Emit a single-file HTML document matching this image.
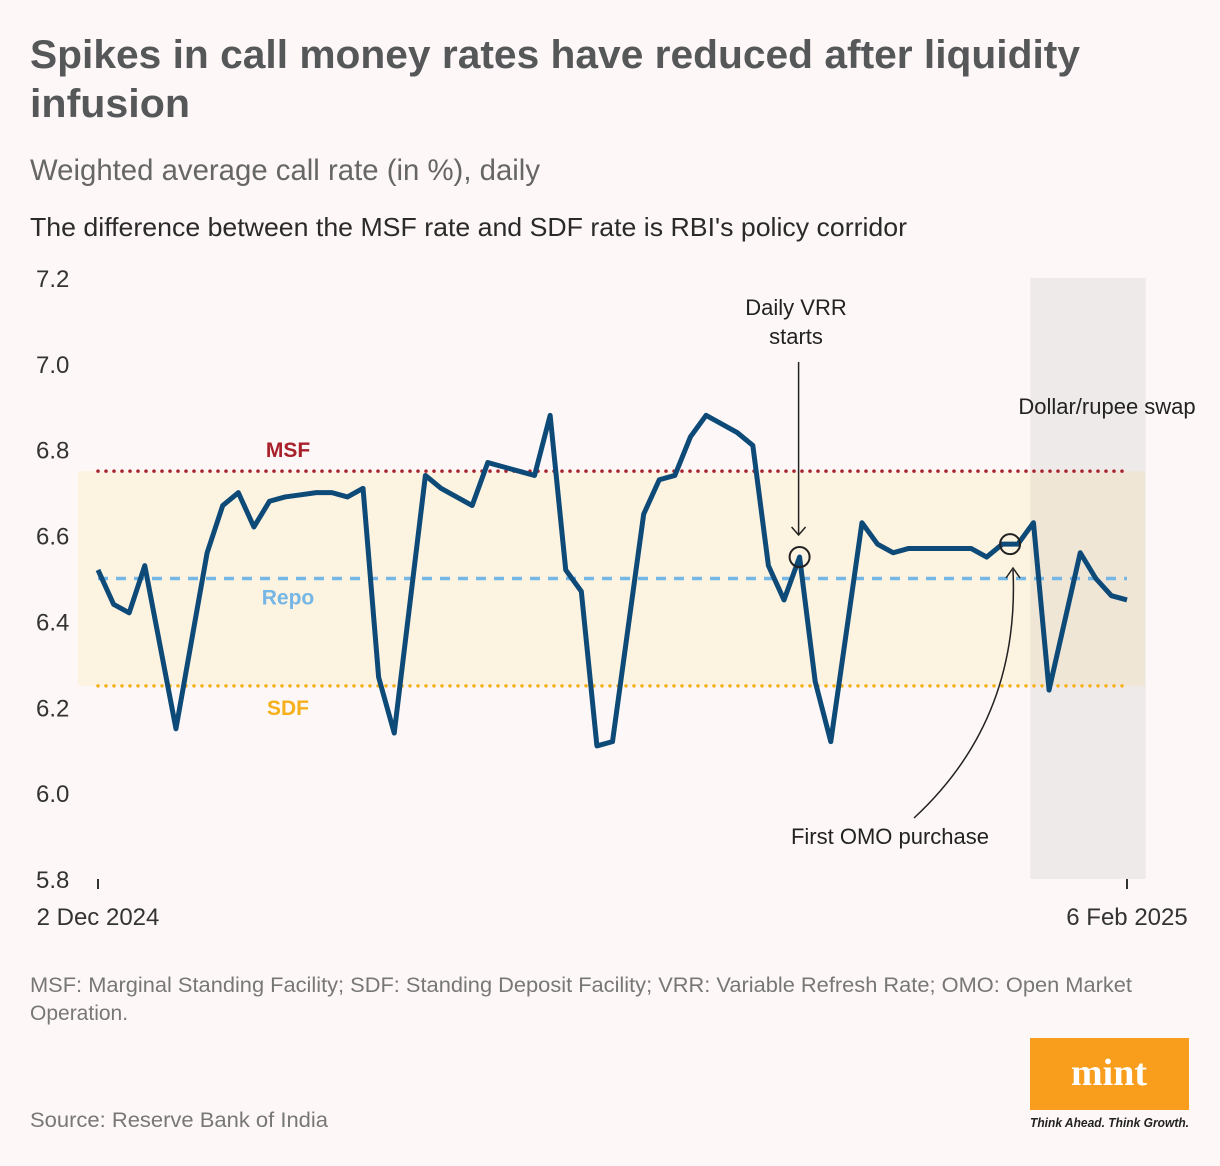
<!DOCTYPE html>
<html><head><meta charset="utf-8"><style>
body{margin:0;background:#fdf8f7;}
svg{display:block;font-family:"Liberation Sans",sans-serif;}
</style></head><body>
<svg width="1220" height="1166" viewBox="0 0 1220 1166">
<rect width="1220" height="1166" fill="#fdf8f7"/>
<text x="30" y="68" font-size="40" font-weight="bold" fill="#555759" textLength="1050" lengthAdjust="spacingAndGlyphs">Spikes in call money rates have reduced after liquidity</text>
<text x="30" y="117" font-size="40" font-weight="bold" fill="#555759" textLength="160" lengthAdjust="spacingAndGlyphs">infusion</text>
<text x="30" y="180" font-size="30" fill="#666" textLength="510" lengthAdjust="spacingAndGlyphs">Weighted average call rate (in %), daily</text>
<text x="30" y="236" font-size="26" fill="#2a2a2a" textLength="877" lengthAdjust="spacingAndGlyphs">The difference between the MSF rate and SDF rate is RBI's policy corridor</text>
<g id="plot"></g>
<text x="30" y="992" font-size="21" fill="#777" textLength="1102" lengthAdjust="spacingAndGlyphs">MSF: Marginal Standing Facility; SDF: Standing Deposit Facility; VRR: Variable Refresh Rate; OMO: Open Market</text>
<text x="30" y="1020" font-size="21" fill="#777">Operation.</text>
<text x="30" y="1127" font-size="21" fill="#777" textLength="298" lengthAdjust="spacingAndGlyphs">Source: Reserve Bank of India</text>
<rect x="1030" y="1038" width="159" height="72" fill="#f99d1c"/>
<text x="1109" y="1085" font-size="38" font-weight="bold" fill="#fff" text-anchor="middle" font-family="Liberation Serif, serif">mint</text>
<text x="1030" y="1127" font-size="12.5" font-style="italic" font-weight="bold" fill="#222" textLength="159" lengthAdjust="spacingAndGlyphs">Think Ahead. Think Growth.</text>
</svg>
<script>
const days = [0,1,2,3,5,7,8,9,10,11,12,13,14,15,16,17,18,19,21,22,23,24,25,26,27,28,29,30,31,32,33,35,36,37,38,39,40,41,42,43,44,45,46,47,49,50,51,52,53,54,55,56,57,58,59,60,61,63,64,65,66];
const rates = [6.52,6.44,6.42,6.53,6.15,6.56,6.67,6.70,6.62,6.68,6.69,6.695,6.70,6.70,6.69,6.71,6.27,6.14,6.74,6.71,6.69,6.67,6.77,6.76,6.75,6.74,6.88,6.52,6.47,6.11,6.12,6.65,6.73,6.74,6.83,6.88,6.86,6.84,6.81,6.53,6.45,6.55,6.26,6.12,6.63,6.58,6.56,6.57,6.57,6.57,6.57,6.57,6.55,6.58,6.58,6.63,6.24,6.56,6.50,6.46,6.45];
const yTicks = [7.2,7.0,6.8,6.6,6.4,6.2,6.0,5.8];
const xTickLabels = ["2 Dec 2024","6 Feb 2025"];
const xTickDays = [0,66];
const policy = {msf:6.75, repo:6.5, sdf:6.25};
const shadeDays = [59.8,67.2];
const NS="http://www.w3.org/2000/svg";
const g=document.getElementById('plot');
const X=d=>98+d*(1127-98)/66;
const Y=v=>278+(7.2-v)*(879-278)/1.4;
function mk(t,a){const e=document.createElementNS(NS,t);for(const k in a)e.setAttribute(k,a[k]);g.appendChild(e);return e;}
let e;
e=mk('rect',{x:78,y:Y(policy.msf),width:1145-78,height:Y(policy.sdf)-Y(policy.msf),fill:'#fdf3e1'});


e=mk('rect',{x:X(shadeDays[0]),y:278,width:X(shadeDays[1])-X(shadeDays[0]),height:601,fill:'#8a8a8a','fill-opacity':0.12});


yTicks.forEach(t=>{
 const tx=mk('text',{x:36,y:Y(t)+9,'font-size':24,fill:'#333'});tx.textContent=t.toFixed(1);
 
 
});
xTickDays.forEach((d,i)=>{
 const l=mk('line',{x1:X(d),x2:X(d),y1:879,y2:889,stroke:'#333','stroke-width':2});
 
 
 const tx=mk('text',{x:X(d),y:925,'font-size':24,fill:'#333','text-anchor':'middle'});tx.textContent=xTickLabels[i];
 
 
});
e=mk('line',{x1:98,x2:1127,y1:Y(policy.msf),y2:Y(policy.msf),stroke:'#a8202a','stroke-width':3.5,'stroke-dasharray':'0 8','stroke-linecap':'round'});


e=mk('line',{x1:98,x2:1127,y1:Y(policy.repo),y2:Y(policy.repo),stroke:'#74b6e6','stroke-width':3.5,'stroke-dasharray':'10 8'});


e=mk('line',{x1:98,x2:1127,y1:Y(policy.sdf),y2:Y(policy.sdf),stroke:'#f5b01b','stroke-width':3.5,'stroke-dasharray':'0 8','stroke-linecap':'round'});


[['MSF','#a8202a',Y(policy.msf)-14,'msf-label'],['Repo','#74b6e6',Y(policy.repo)+26,'repo-label'],['SDF','#f5b01b',Y(policy.sdf)+29,'sdf-label']].forEach(a=>{
 const tx=mk('text',{x:288,y:a[2],'font-size':21,'font-weight':'bold',fill:a[1],'text-anchor':'middle'});tx.textContent=a[0];
 
 
});
e=mk('polyline',{points:days.map((d,i)=>X(d)+','+Y(rates[i])).join(' '),fill:'none',stroke:'#0d4a78','stroke-width':5,'stroke-linejoin':'round'});


e=mk('circle',{cx:X(45),cy:Y(6.55),r:10,fill:'none',stroke:'#222','stroke-width':2});


e=mk('path',{d:`M${X(45)-1},362 L${X(45)-1},535 M${X(45)-8},527 L${X(45)-1},535 L${X(45)+6},527`,fill:'none',stroke:'#222','stroke-width':1.5});


[['Daily VRR',315],['starts',344]].forEach(a=>{
 const tx=mk('text',{x:796,y:a[1],'font-size':22,fill:'#222','text-anchor':'middle'});tx.textContent=a[0];
 
 
});
e=mk('circle',{cx:X(58.5),cy:Y(6.58),r:10,fill:'none',stroke:'#222','stroke-width':2});


e=mk('path',{d:`M914,818 Q1020,720 1013,570 M1006,578 L1013,568 L1020,578`,fill:'none',stroke:'#222','stroke-width':1.5});


e=mk('text',{x:890,y:844,'font-size':22,fill:'#222','text-anchor':'middle'});e.textContent='First OMO purchase';


e=mk('text',{x:1107,y:414,'font-size':22,fill:'#222','text-anchor':'middle'});e.textContent='Dollar/rupee swap';


</script>
</body></html>
